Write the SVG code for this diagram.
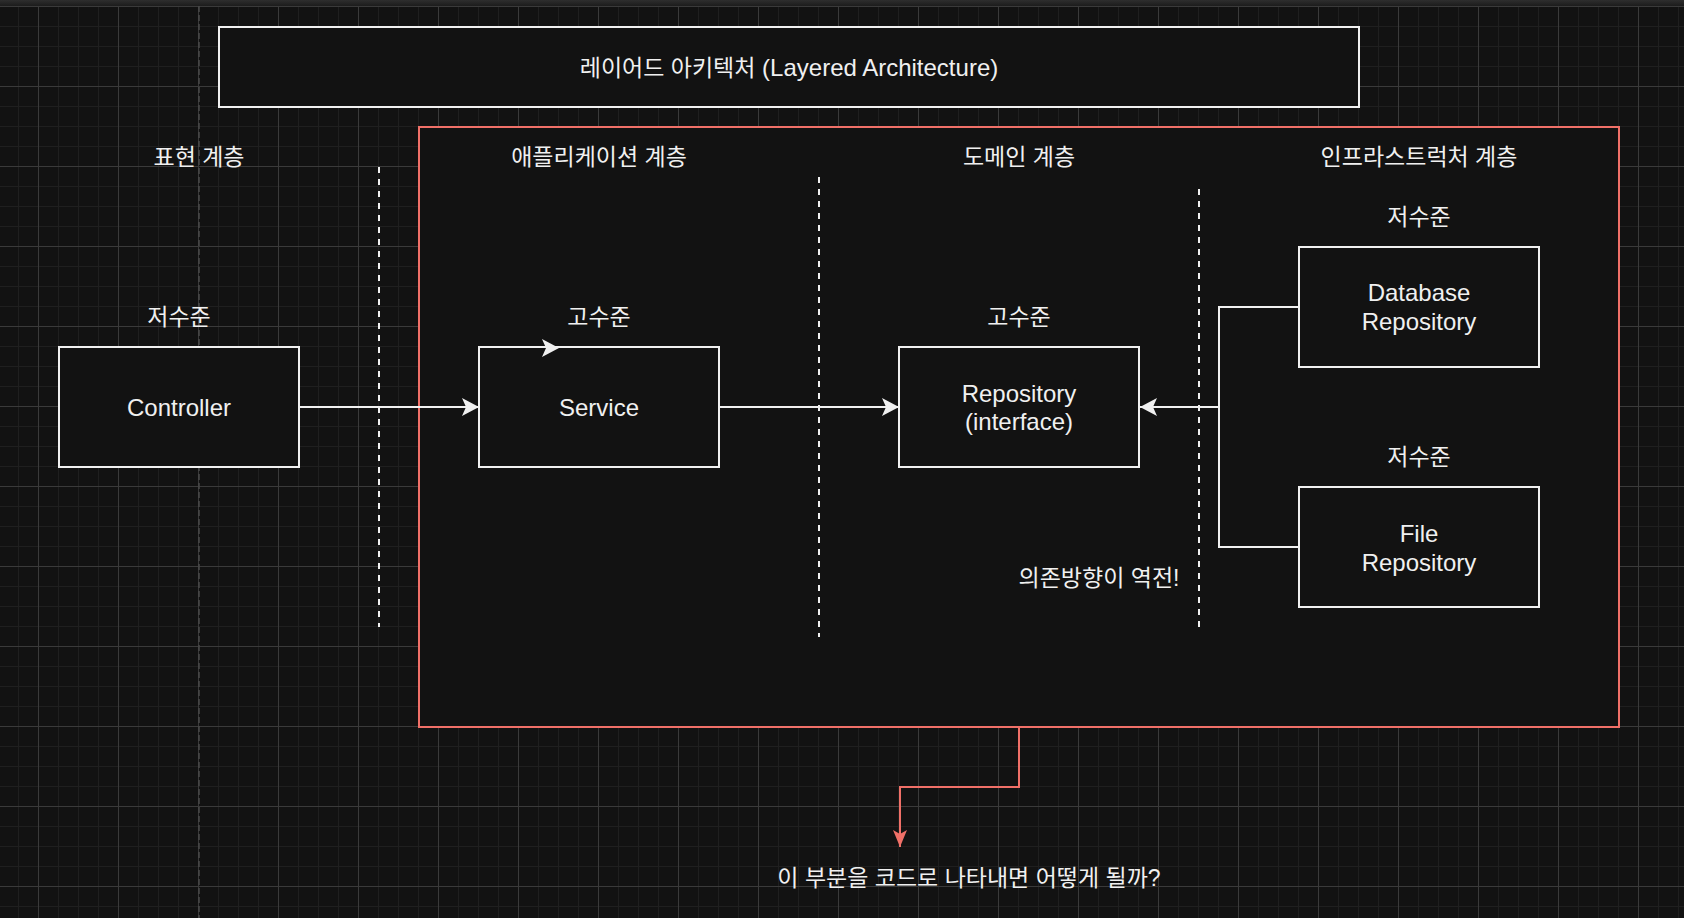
<svg xmlns="http://www.w3.org/2000/svg" width="1684" height="918" viewBox="0 0 1684 918">
  <style>
    .t { font-family: 'Liberation Sans', 'Noto Sans CJK KR', sans-serif; font-size: 24px; fill: #f0f0f0; text-anchor: middle; }
    .k { font-size: 23px; }
    .box { fill: #121212; stroke: #f0f0f0; stroke-width: 2; }
    .edge { fill: none; stroke: #f0f0f0; stroke-width: 2; }
    .red { fill: none; stroke: #f07068; stroke-width: 2; }
    .sep { stroke: #f0f0f0; stroke-width: 2; stroke-dasharray: 6 6; }
  </style>
  <defs>
    <linearGradient id="topbar" x1="0" y1="0" x2="0" y2="1">
      <stop offset="0" stop-color="#2e2e2e"/>
      <stop offset="1" stop-color="#1c1c1c"/>
    </linearGradient>
    <pattern id="minor" patternUnits="userSpaceOnUse" x="18" y="6" width="20" height="20">
      <rect x="0" y="0" width="1" height="20" fill="#1f1f1f"/>
      <rect x="0" y="0" width="20" height="1" fill="#1f1f1f"/>
    </pattern>
    <pattern id="major" patternUnits="userSpaceOnUse" x="38" y="6" width="80" height="80">
      <rect x="0" y="0" width="1" height="80" fill="#3a3a3a"/>
      <rect x="0" y="0" width="80" height="1" fill="#3a3a3a"/>
    </pattern>
    <marker id="arrow" markerUnits="userSpaceOnUse" markerWidth="18" markerHeight="18" refX="17" refY="9" orient="auto">
      <path d="M0,0 L17,9 L0,18 L4,9 Z" fill="#f0f0f0"/>
    </marker>
    <marker id="arrowRed" markerUnits="userSpaceOnUse" markerWidth="18" markerHeight="18" refX="17" refY="9" orient="auto">
      <path d="M0,2 L17,9 L0,16 L4,9 Z" fill="#f07068"/>
    </marker>
  </defs>

  <!-- background -->
  <rect x="0" y="0" width="1684" height="918" fill="#121212"/>
  <rect x="0" y="6" width="1684" height="912" fill="url(#minor)"/>
  <rect x="0" y="6" width="1684" height="912" fill="url(#major)"/>
  <rect x="0" y="0" width="1684" height="6" fill="url(#topbar)"/>
  <line x1="199" y1="6" x2="199" y2="918" stroke="#4a4a4a" stroke-width="1.5" stroke-dasharray="6 3"/>

  <g transform="translate(1,1)">
  <g id="title">
    <rect class="box" x="218" y="26" width="1140" height="80"/>
    <text class="t" x="788" y="75"><tspan class="k">레이어드 아키텍처</tspan> (Layered Architecture)</text>
  </g>

  <g id="container">
    <rect x="418" y="126" width="1200" height="600" fill="#121212" stroke="#f07068" stroke-width="2"/>
  </g>

  <g id="layer-labels">
    <text class="t k" x="198" y="164">표현 계층</text>
    <text class="t k" x="598" y="164">애플리케이션 계층</text>
    <text class="t k" x="1018" y="164">도메인 계층</text>
    <text class="t k" x="1418" y="164">인프라스트럭처 계층</text>
  </g>

  <g id="separators">
    <line class="sep" x1="378" y1="166" x2="378" y2="626"/>
    <line class="sep" x1="818" y1="176" x2="818" y2="636"/>
    <line class="sep" x1="1198" y1="188" x2="1198" y2="626"/>
  </g>

  <g id="level-labels">
    <text class="t k" x="178" y="324">저수준</text>
    <text class="t k" x="598" y="324">고수준</text>
    <text class="t k" x="1018" y="324">고수준</text>
    <text class="t k" x="1418" y="224">저수준</text>
    <text class="t k" x="1418" y="464">저수준</text>
  </g>

  <g id="connectors">
    <path class="edge" d="M298,406 L478,406" marker-end="url(#arrow)"/>
    <path class="edge" d="M718,406 L898,406" marker-end="url(#arrow)"/>
    <path class="edge" d="M1298,306 L1218,306 L1218,406 L1139,406" marker-end="url(#arrow)"/>
    <path class="edge" d="M1298,546 L1218,546 L1218,406"/>
    <path class="red" d="M1018,726 L1018,786 L899,786 L899,846" marker-end="url(#arrowRed)"/>
  </g>

  <g id="controller">
    <rect class="box" x="58" y="346" width="240" height="120"/>
    <text class="t" x="178" y="415">Controller</text>
  </g>

  <g id="service">
    <rect class="box" x="478" y="346" width="240" height="120"/>
    <text class="t" x="598" y="415">Service</text>
    <path d="M541,338 L558,347 L541,356 L545,347 Z" fill="#f0f0f0"/>
  </g>

  <g id="repository">
    <rect class="box" x="898" y="346" width="240" height="120"/>
    <text class="t" x="1018" y="401">Repository</text>
    <text class="t" x="1018" y="429">(interface)</text>
  </g>

  <g id="database-repository">
    <rect class="box" x="1298" y="246" width="240" height="120"/>
    <text class="t" x="1418" y="300">Database</text>
    <text class="t" x="1418" y="329">Repository</text>
  </g>

  <g id="file-repository">
    <rect class="box" x="1298" y="486" width="240" height="120"/>
    <text class="t" x="1418" y="541">File</text>
    <text class="t" x="1418" y="570">Repository</text>
  </g>

  <g id="notes">
    <text class="t k" x="1098" y="585">의존방향이 역전!</text>
    <text class="t k" x="968" y="885">이 부분을 코드로 나타내면 어떻게 될까?</text>
  </g>
  </g>
</svg>
